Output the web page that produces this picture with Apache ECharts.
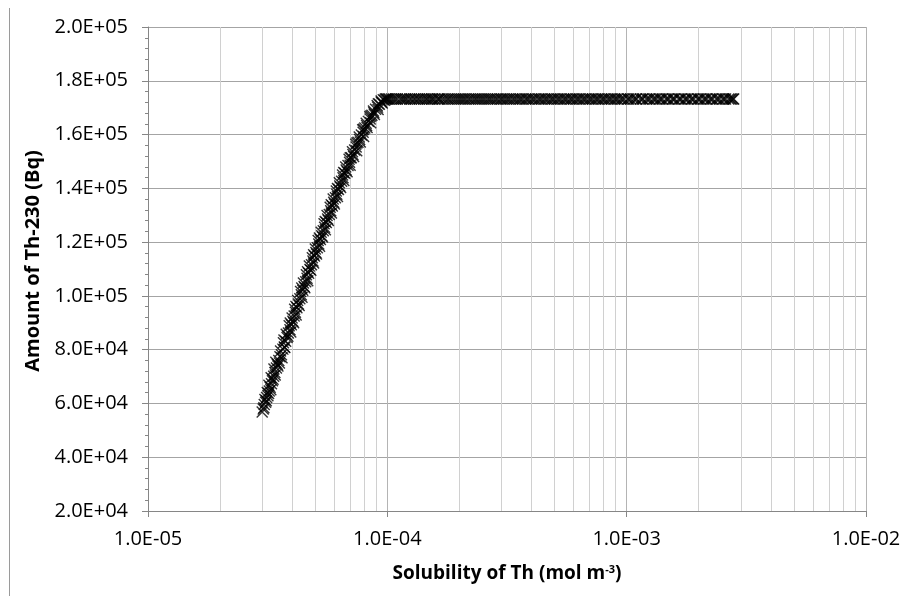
<!DOCTYPE html>
<html>
<head>
<meta charset="utf-8">
<style>
  html, body { margin: 0; padding: 0; background: #ffffff; }
  #chart { width: 906px; height: 596px; }
</style>
<script src="https://cdn.jsdelivr.net/npm/echarts@6/dist/echarts.min.js"></script>
</head>
<body>
<div id="chart"></div>
<script>
// Rising part: solubility (mol m^-3) and Th-230 inventory (Bq)
const riseSolubility = [
  3.00e-5, 3.03e-5, 3.06e-5, 3.10e-5, 3.08e-5, 3.13e-5, 3.17e-5, 3.15e-5, 3.21e-5, 3.24e-5,
  3.20e-5, 3.28e-5, 3.31e-5, 3.27e-5, 3.35e-5, 3.39e-5, 3.36e-5, 3.44e-5, 3.47e-5, 3.42e-5,
  3.52e-5, 3.56e-5, 3.61e-5, 3.58e-5, 3.66e-5, 3.71e-5, 3.68e-5, 3.76e-5, 3.81e-5, 3.78e-5,
  3.86e-5, 3.92e-5, 3.89e-5, 3.97e-5, 4.03e-5, 4.00e-5, 4.08e-5, 4.13e-5, 4.10e-5, 4.19e-5,
  4.25e-5, 4.22e-5, 4.31e-5, 4.37e-5, 4.34e-5, 4.43e-5, 4.49e-5, 4.46e-5, 4.56e-5, 4.62e-5,
  4.59e-5, 4.69e-5, 4.75e-5, 4.72e-5, 4.82e-5, 4.89e-5, 4.86e-5, 4.96e-5, 5.03e-5, 5.00e-5,
  5.10e-5, 5.17e-5, 5.14e-5, 5.25e-5, 5.32e-5, 5.29e-5, 5.40e-5, 5.47e-5, 5.44e-5, 5.56e-5,
  5.63e-5, 5.60e-5, 5.72e-5, 5.80e-5, 5.77e-5, 5.89e-5, 5.97e-5, 5.94e-5, 6.07e-5, 6.15e-5,
  6.12e-5, 6.25e-5, 6.33e-5, 6.30e-5, 6.44e-5, 6.53e-5, 6.50e-5, 6.64e-5, 6.73e-5, 6.70e-5,
  6.85e-5, 6.95e-5, 6.92e-5, 7.07e-5, 7.18e-5, 7.15e-5, 7.30e-5, 7.41e-5, 7.38e-5, 7.54e-5,
  7.66e-5, 7.63e-5, 7.79e-5, 7.92e-5, 7.89e-5, 8.05e-5, 8.19e-5, 8.16e-5, 8.33e-5, 8.48e-5,
  8.45e-5, 8.62e-5, 8.78e-5, 8.75e-5, 8.93e-5, 9.10e-5, 9.07e-5, 9.26e-5, 9.44e-5, 9.42e-5,
  9.62e-5, 9.81e-5, 9.97e-5,
  3.05e-5, 3.12e-5, 3.19e-5, 3.26e-5, 3.33e-5, 3.40e-5, 3.49e-5, 3.54e-5, 3.63e-5, 3.73e-5,
  3.70e-5, 3.84e-5, 3.95e-5, 3.93e-5, 4.06e-5, 4.16e-5, 4.15e-5, 4.28e-5, 4.40e-5, 4.39e-5,
  4.52e-5, 4.65e-5, 4.64e-5, 4.79e-5, 4.92e-5, 4.92e-5, 5.06e-5, 5.21e-5, 5.20e-5, 5.36e-5,
  5.51e-5, 5.50e-5, 5.67e-5, 5.84e-5, 5.83e-5, 6.01e-5, 6.19e-5, 6.19e-5, 6.38e-5, 6.58e-5,
  6.57e-5, 6.79e-5, 6.99e-5, 7.00e-5, 7.23e-5, 7.45e-5, 7.46e-5, 7.71e-5, 7.96e-5, 7.96e-5,
  8.23e-5, 8.52e-5, 8.53e-5, 8.83e-5, 9.15e-5, 9.18e-5, 9.52e-5, 9.75e-5, 9.90e-5
];
const riseAmount = [
  56800, 57900, 59600, 60400, 61500, 62200, 62900, 64100, 64600, 66000,
  66800, 67300, 68400, 69600, 70100, 71500, 72800, 73200, 74600, 75300,
  76000, 77400, 78100, 79500, 80200, 81000, 82600, 83100, 84500, 85700,
  86200, 87400, 88900, 89300, 90600, 91800, 92500, 93900, 95000, 95600,
  97000, 98300, 98900, 100400, 101600, 102100, 103500, 104800, 105300, 106600,
  107900, 108400, 109800, 111100, 111600, 113000, 114200, 114800, 116100, 117400,
  117900, 119300, 120600, 121000, 122400, 123700, 124200, 125500, 126800, 127300,
  128600, 129900, 130300, 131700, 133000, 133400, 134800, 136000, 136500, 137800,
  139000, 139600, 140900, 142100, 142600, 143900, 145000, 145600, 146800, 147900,
  148500, 149700, 150800, 151400, 152600, 153600, 154300, 155400, 156400, 157100,
  158200, 159100, 159800, 160900, 161800, 162400, 163400, 164200, 164900, 165800,
  166600, 167200, 168100, 168800, 169400, 170200, 170800, 171300, 172000, 172500,
  172900, 173200, 173200,
  58400, 61000, 63700, 65100, 69000, 70600, 73900, 75000, 77000, 80800,
  83600, 85000, 86600, 89900, 90000, 92900, 96100, 96400, 99500, 102900,
  103000, 105600, 109000, 109500, 112200, 115300, 115600, 118500, 121500, 121900,
  124600, 127700, 128000, 130800, 133900, 134200, 137000, 139900, 140300, 142900,
  145900, 146200, 148600, 151400, 151800, 154000, 156900, 157200, 159300, 162000,
  162600, 164400, 166900, 167500, 169300, 171500, 171700, 172800, 173200
];

// Plateau: solubility no longer limiting, inventory stays at 1.732E+05 Bq
const plateauSolubility = [
  1.01e-4, 1.04e-4, 1.06e-4, 1.10e-4, 1.13e-4, 1.15e-4, 1.19e-4, 1.24e-4, 1.26e-4, 1.31e-4,
  1.34e-4, 1.39e-4, 1.42e-4, 1.47e-4, 1.53e-4, 1.55e-4, 1.62e-4, 1.66e-4, 1.70e-4, 1.78e-4,
  1.81e-4, 1.89e-4, 1.93e-4, 2.01e-4, 2.05e-4, 2.13e-4, 2.18e-4, 2.27e-4, 2.32e-4, 2.41e-4,
  2.46e-4, 2.56e-4, 2.62e-4, 2.72e-4, 2.78e-4, 2.89e-4, 2.96e-4, 3.07e-4, 3.14e-4, 3.26e-4,
  3.34e-4, 3.47e-4, 3.55e-4, 3.68e-4, 3.78e-4, 3.91e-4, 4.01e-4, 4.16e-4, 4.27e-4, 4.42e-4,
  4.53e-4, 4.70e-4, 4.82e-4, 4.99e-4, 5.12e-4, 5.31e-4, 5.45e-4, 5.64e-4, 5.79e-4, 5.99e-4,
  6.15e-4, 6.37e-4, 6.54e-4, 6.77e-4, 6.95e-4, 7.20e-4, 7.39e-4, 7.65e-4, 7.86e-4, 8.13e-4,
  8.35e-4, 8.65e-4, 8.88e-4, 9.19e-4, 9.44e-4, 9.77e-4, 1.01e-3, 1.04e-3, 1.07e-3, 1.10e-3,
  1.14e-3, 1.17e-3, 1.21e-3, 1.25e-3, 1.29e-3, 1.33e-3, 1.37e-3, 1.41e-3, 1.46e-3, 1.50e-3,
  1.55e-3, 1.59e-3, 1.65e-3, 1.69e-3, 1.75e-3, 1.80e-3, 1.86e-3, 1.91e-3, 1.98e-3, 2.03e-3,
  2.10e-3, 2.16e-3, 2.23e-3, 2.29e-3, 2.37e-3, 2.44e-3, 2.52e-3, 2.59e-3, 2.67e-3, 2.74e-3,
  2.80e-3,
  1.02e-4, 1.08e-4, 1.17e-4, 1.21e-4, 1.29e-4, 1.36e-4, 1.45e-4, 1.50e-4, 1.58e-4, 1.64e-4,
  1.74e-4, 1.85e-4, 1.97e-4, 2.09e-4, 2.22e-4, 2.36e-4, 2.51e-4, 2.67e-4, 2.84e-4, 3.01e-4,
  3.20e-4, 3.40e-4, 3.61e-4, 3.84e-4, 4.08e-4, 4.34e-4, 4.61e-4, 4.90e-4, 5.21e-4, 5.54e-4,
  5.88e-4, 6.26e-4, 6.65e-4, 7.07e-4, 7.52e-4, 7.99e-4, 8.50e-4, 9.03e-4, 9.60e-4, 1.02e-3,
  1.09e-3, 1.16e-3, 1.23e-3, 1.31e-3, 1.39e-3, 1.48e-3, 1.57e-3, 1.67e-3, 1.77e-3, 1.88e-3,
  2.00e-3, 2.13e-3, 2.26e-3, 2.40e-3, 2.55e-3, 2.71e-3, 2.78e-3
];
const plateauAmount = 173200;

// Axis ranges and tick positions
const xMin = 1e-5, xMax = 1e-2;
const yMin = 20000, yMax = 200000, yStep = 20000;
const minorDecadeLines = [
  2e-5, 3e-5, 4e-5, 5e-5, 6e-5, 7e-5, 8e-5, 9e-5,
  2e-4, 3e-4, 4e-4, 5e-4, 6e-4, 7e-4, 8e-4, 9e-4,
  2e-3, 3e-3, 4e-3, 5e-3, 6e-3, 7e-3, 8e-3, 9e-3
];

const FONT = '"Open Sans", "Noto Sans", sans-serif';

// "2.0E+05" style scientific labels
function sci(v) {
  const parts = Number(v).toExponential(1).split('e');
  const sign = parts[1][0];
  const exp = parts[1].slice(1).padStart(2, '0');
  return parts[0] + 'E' + sign + exp;
}

const points = [];
riseSolubility.forEach((s, i) => points.push([s, riseAmount[i]]));
plateauSolubility.forEach(s => points.push([s, plateauAmount]));

// vertical minor grid lines spanning the full value range
const minorGrid = minorDecadeLines.map(v => ({ coords: [[v, yMin], [v, yMax]] }));

const chart = echarts.init(document.getElementById('chart'), null, { renderer: 'canvas' });
chart.setOption({
  animation: false,
  backgroundColor: '#ffffff',
  grid: { left: 148, right: 40, top: 27, bottom: 85, containLabel: false },
  xAxis: {
    type: 'log',
    logBase: 10,
    min: xMin,
    max: xMax,
    name: '{t|Solubility of Th (mol m}{s|-3}{t|)}',
    nameLocation: 'middle',
    nameGap: 53,
    nameTextStyle: {
      rich: {
        t: { fontFamily: FONT, fontWeight: 'bold', fontSize: 19, color: '#000' },
        s: { fontFamily: FONT, fontWeight: 'bold', fontSize: 11, color: '#000', verticalAlign: 'top', padding: [0, 0, 9, 0] }
      }
    },
    axisLine: { show: true, lineStyle: { color: '#868686', width: 1 } },
    axisTick: { show: true, inside: false, length: 6, lineStyle: { color: '#868686' } },
    axisLabel: { fontFamily: FONT, fontSize: 20, color: '#000', margin: 18, formatter: sci },
    splitLine: { show: true, lineStyle: { color: '#b4b4b4', width: 1 } },
    minorTick: { show: false },
    minorSplitLine: { show: false }
  },
  yAxis: {
    type: 'value',
    min: yMin,
    max: yMax,
    interval: yStep,
    name: 'Amount of Th-230 (Bq)',
    nameLocation: 'middle',
    nameGap: 97,
    nameTextStyle: { fontFamily: FONT, fontWeight: 'bold', fontSize: 20, color: '#000', padding: [0, 0, 0, 16] },
    axisLine: { show: true, lineStyle: { color: '#868686', width: 1 } },
    axisTick: { show: true, inside: false, length: 6, lineStyle: { color: '#868686' } },
    minorTick: { show: true, splitNumber: 5, length: 3, lineStyle: { color: '#868686' } },
    axisLabel: { fontFamily: FONT, fontSize: 20, color: '#000', margin: 20, formatter: sci },
    splitLine: { show: true, lineStyle: { color: '#a4a4a4', width: 1 } }
  },
  series: [
    {
      type: 'lines',
      coordinateSystem: 'cartesian2d',
      z: 1,
      silent: true,
      polyline: false,
      lineStyle: { color: '#d0d0d0', width: 1, opacity: 1 },
      data: minorGrid
    },
    {
      type: 'scatter',
      z: 5,
      data: points,
      symbol: 'path://M0,0L10,10M10,0L0,10',
      symbolSize: 11,
      itemStyle: { color: 'rgba(0,0,0,0)', borderColor: '#000', borderWidth: 1.4 },
      emphasis: { disabled: true }
    }
  ],
  graphic: [
    {
      type: 'line',
      shape: { x1: 9.5, y1: 8, x2: 9.5, y2: 596 },
      style: { stroke: '#9a9a9a', lineWidth: 1 },
      silent: true
    }
  ]
});
</script>
</body>
</html>
